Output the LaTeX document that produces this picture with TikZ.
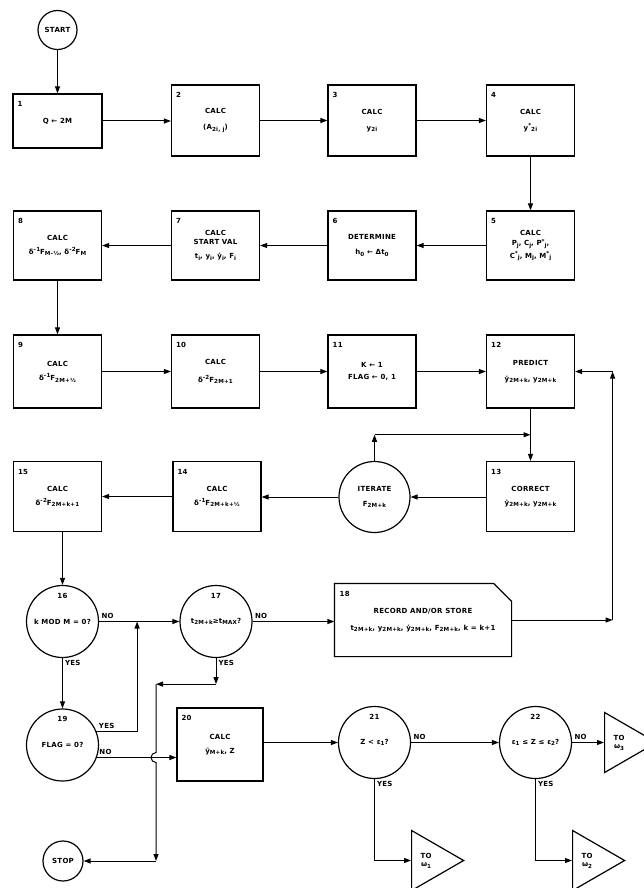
\documentclass[tikz,border=0pt]{standalone}
\usepackage{fontspec}
\setmainfont{DejaVu Sans}[LetterSpace=4]
\usepackage{tikz}
\usetikzlibrary{arrows.meta}
\usetikzlibrary{calc}
\usetikzlibrary{shapes.geometric}
\newcommand\ix[1]{\raisebox{-1.6pt}{\fontsize{5.6}{6}\selectfont #1}}
\newcommand\sx[1]{\raisebox{2.6pt}{\fontsize{5.6}{6}\selectfont #1}}
\tikzstyle{blk}=[draw,line width=1.2pt,minimum width=88pt,minimum height=71pt,inner sep=0pt,align=center]
\tikzstyle{dec}=[draw,circle,line width=1.2pt,minimum size=72pt,inner sep=0pt,align=center]
\tikzstyle{term}=[draw,circle,line width=1.2pt,minimum size=39pt,inner sep=0pt]
\tikzstyle{goto}=[draw,isosceles triangle,isosceles triangle stretches,line width=1.2pt,minimum width=60pt,minimum height=52pt,inner sep=1pt,align=center,anchor=west]
\tikzstyle{flowhead}=[>/.tip={Triangle[length=7pt,width=5pt]}]
\tikzstyle{flow}=[line width=1pt,flowhead,->]
\tikzset{nr/.style={label={[anchor=north west,inner sep=0pt,xshift=5pt,yshift=-8pt]north west:#1}},
  cnr/.style={label={[anchor=north,inner sep=0pt,yshift=-8pt]north:#1}},
  lblup/.style={anchor=south west,inner sep=2pt,pos=0},
  lbldn/.style={anchor=north west,inner sep=2pt,pos=0}}

\begin{document}
\begin{tikzpicture}[x=1pt,y=-1pt,font=\fontsize{7}{8.5}\selectfont\bfseries]
  \useasboundingbox (0,0) rectangle (644,888);
  \node[term] (start) at (57.5,30) {START};
  \node[blk,nr=1,minimum width=89pt,minimum height=54pt] (b1) at (57.5,121) {Q ← 2M};
  \node[blk,nr=2] (b2) at (215.5,120.5) {CALC\\[7pt](A\ix{2i, j})};
  \node[blk,nr=3] (b3) at (372,120.5) {CALC\\[7pt]y\ix{2i}};
  \node[blk,nr=4] (b4) at (530.5,120.5) {CALC\\[7pt]y\sx{*}\ix{2i}};
  \node[blk,nr=5,minimum height=69pt] (b5) at (530.5,245.5) {CALC\\[2pt]P\ix{j}, C\ix{j}, P\sx{*}\ix{j},\\[2pt]C\sx{*}\ix{j}, M\ix{j}, M\sx{*}\ix{j}};
  \node[blk,nr=6,minimum height=69pt] (b6) at (372,245.5) {DETERMINE\\[6pt]h\ix{0} ← Δt\ix{0}};
  \node[blk,nr=7,minimum height=69pt] (b7) at (215.5,245.5) {CALC\\START VAL\\[6pt]t\ix{i}, y\ix{i}, ẏ\ix{i}, F\ix{i}};
  \node[blk,nr=8,minimum height=69pt] (b8) at (57.5,245.5) {CALC\\[5pt]δ\sx{-1}F\ix{M-½}, δ\sx{-2}F\ix{M}};
  \node[blk,nr=9,minimum height=73pt] (b9) at (57.5,371.5) {CALC\\[6pt]δ\sx{-1}F\ix{2M+½}};
  \node[blk,nr=10,minimum height=73pt] (b10) at (215.5,371.5) {CALC\\[9pt]δ\sx{-2}F\ix{2M+1}};
  \node[blk,nr=11,minimum height=73pt] (b11) at (372,371.5) {K ← 1\\[3pt]FLAG ← 0, 1};
  \node[blk,nr=12,minimum height=73pt] (b12) at (530.5,371.5) {PREDICT\\[7pt]ẏ\ix{2M+k}, y\ix{2M+k}};
  \node[blk,nr=13,minimum height=70pt] (b13) at (530.5,496.5) {CORRECT\\[5pt]ẏ\ix{2M+k}, y\ix{2M+k}};
  \node[dec,minimum size=71pt] (it) at (374.5,497) {ITERATE\\[6pt]F\ix{2M+k}};
  \node[blk,nr=14,minimum height=70pt] (b14) at (217,496.5) {CALC\\[5pt]δ\sx{-1}F\ix{2M+k+½}};
  \node[blk,nr=15,minimum height=70pt] (b15) at (57.5,496.5) {CALC\\[5pt]δ\sx{-2}F\ix{2M+k+1}};
  \node[dec,cnr=16] (d16) at (62.5,621.5) {k MOD M = 0?};
  \node[dec,cnr=17] (d17) at (216,621.5) {t\ix{2M+k}≥t\ix{MAX}?};
  \node[blk,draw=none,nr=18,minimum width=176pt,minimum height=72pt] (b18) at (423,620) {RECORD AND/OR STORE\\[8pt]t\ix{2M+k}, y\ix{2M+k}, ẏ\ix{2M+k}, F\ix{2M+k}, k = k+1};
  \draw[line width=1.2pt] (b18.north west) -- ([xshift=-18pt]b18.north east) -- ([yshift=-18pt]b18.north east) -- (b18.south east) -- (b18.south west) -- cycle;
  \node[dec,cnr=19] (d19) at (62.5,745) {FLAG = 0?};
  \node[blk,nr=20,minimum width=86pt,minimum height=73pt] (b20) at (220,744.5) {CALC\\[5pt]ỹ\ix{M+k}, Z};
  \node[dec,cnr=21] (d21) at (374.5,742.5) {Z < ε\ix{1}?};
  \node[dec,cnr=22] (d22) at (535.5,742.5) {ε\ix{1} ≤ Z ≤ ε\ix{2}?};
  \node[goto] (w3) at (604,742.5) {TO\\ω\ix{3}};
  \node[goto] (w1) at (411,860.5) {TO\\ω\ix{1}};
  \node[goto] (w2) at (572,860.5) {TO\\ω\ix{2}};
  \node[term,minimum size=40pt] (stop) at (63,861) {STOP};
  \draw[flow] (start.south) -- (start.south |- b1.north);
  \draw[flow] (b1.east) -- (b1.east -| b2.west);
  \draw[flow] (b2) -- (b3);
  \draw[flow] (b3) -- (b4);
  \draw[flow] (b4) -- (b5);
  \draw[flow] (b5) -- (b6);
  \draw[flow] (b6) -- (b7);
  \draw[flow] (b7) -- (b8);
  \draw[flow] (b8) -- (b9);
  \draw[flow] (b9) -- (b10);
  \draw[flow] (b10) -- (b11);
  \draw[flow] (b11) -- (b12);
  \draw[flow] (b12) -- (b13);
  \draw[flow] (b13.west |- it) -- (it);
  \draw[flow] (it) -- (it -| b14.east);
  \draw[flow] (b14) -- (b15);
  \coordinate (j1) at ($(b12.south)!.5!(b13.north)$);
  \draw[flow] (it.north) -- (it.north |- j1);
  \draw[flow] (it.north |- j1) -- (j1);
  \draw[flow] (d16.north |- b15.south) -- (d16.north);
  \draw[flow] (d16.east) -- node[lblup]{NO} (d16.east -| d17.west);
  \draw[flow] (d16.south) -- node[lbldn]{YES} (d19.north);
  \draw[flow] (d17.east) -- node[lblup]{NO} (d17.east -| b18.west);
  \coordinate (j2) at ([xshift=38pt]d16.east);
  \draw[flow] (d19.22) -- node[lblup]{YES} (d19.22 -| j2) -- (j2);
  \draw[flow] (d19.-20) -- node[lblup]{NO} (d19.-20 -| b20.west);
  \coordinate (j3) at ([yshift=-26pt]d17.south);
  \draw[flow] (d17.south) -- node[lbldn]{YES} (j3);
  \coordinate (j4) at ([xshift=-60pt]j3);
  \draw[flow] (j3) -- (j4);
  \coordinate (hop) at (j4 |- d19.-20);
  \coordinate (j5) at (j4 |- stop);
  \draw[flow] (j4) -- ([yshift=5pt]hop) arc[start angle=90,end angle=270,radius=5pt] -- (j5);
  \draw[flow] (j5) -- (stop);
  \draw[flow] (b20.east |- d21) -- (d21);
  \draw[flow] (d21) -- node[lblup]{NO} (d22);
  \draw[flow] (d22.east) -- node[lblup]{NO} (w3.west);
  \draw[flow] (d21.south) |- node[lbldn]{YES} (w1.west);
  \draw[flow] (d22.south) |- node[lbldn]{YES} (w2.west);
  \coordinate (r1) at ([xshift=101pt]b18.east);
  \coordinate (r2) at (r1 |- b12.east);
  \draw[flow] (b18.east) -- (r1);
  \draw[flow] (r1) -- (r2);
  \draw[flow] (r2) -- (b12.east);
\end{tikzpicture}
\end{document}
